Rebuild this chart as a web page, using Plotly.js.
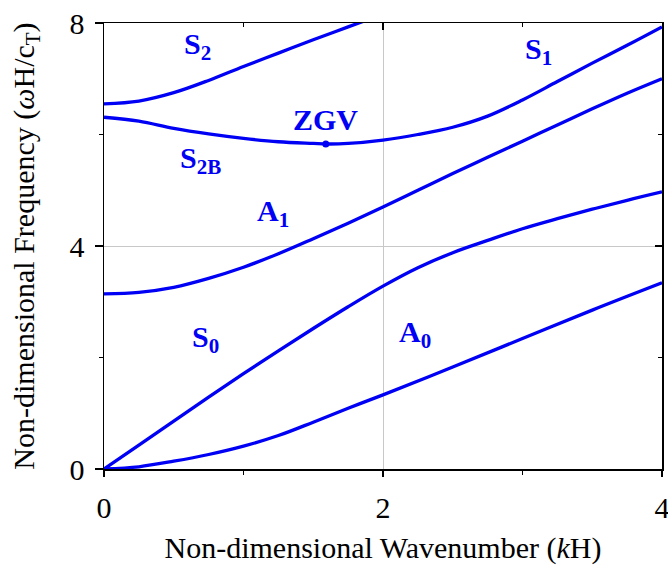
<!DOCTYPE html>
<html>
<head>
<meta charset="utf-8">
<script src="https://cdn.plot.ly/plotly-3.0.1.min.js"></script>
<style>html,body{margin:0;padding:0;background:#fff;}#chart{width:668px;height:565px;}</style>
</head>
<body>
<div id="chart"></div>
<script>
// Dispersion curves (kH vs ωH/cT)
const a0X = [0, 0.25, 0.5, 0.75, 1, 1.25, 1.5, 1.75, 2, 2.5, 3, 3.5, 4];
const a0Y = [0, 0.04, 0.14, 0.26, 0.41, 0.60, 0.84, 1.09, 1.33, 1.83, 2.34, 2.85, 3.34];

const s0X = [0, 0.25, 0.5, 0.75, 1, 1.25, 1.5, 1.75, 2, 2.25, 2.5, 2.75, 3, 3.25, 3.5, 3.75, 4];
const s0Y = [0, 0.43, 0.86, 1.29, 1.71, 2.12, 2.52, 2.91, 3.28, 3.61, 3.88, 4.10, 4.31, 4.49, 4.66, 4.82, 4.97];

const a1X = [0, 0.25, 0.5, 0.75, 1, 1.25, 1.5, 1.75, 2, 2.25, 2.5, 2.75, 3, 3.25, 3.5, 3.75, 4];
const a1Y = [3.14, 3.17, 3.26, 3.42, 3.62, 3.86, 4.13, 4.41, 4.70, 5.00, 5.30, 5.59, 5.88, 6.17, 6.46, 6.74, 7.0];

const s1X = [0, 0.25, 0.5, 0.75, 1, 1.25, 1.5, 1.6, 1.75, 2, 2.25, 2.5, 2.75, 3, 3.25, 3.5, 3.75, 4];
const s1Y = [6.31, 6.24, 6.11, 6.01, 5.93, 5.87, 5.84, 5.83, 5.84, 5.90, 6.00, 6.13, 6.33, 6.62, 6.95, 7.28, 7.60, 7.93];

const s2X = [0, 0.25, 0.5, 0.75, 1, 1.25, 1.5, 1.75, 2];
const s2Y = [6.55, 6.60, 6.75, 6.97, 7.22, 7.46, 7.70, 7.93, 8.16];

const zgvX = [1.59];
const zgvY = [5.83];

const labelText = ['S<sub>2</sub>', 'S<sub>1</sub>', 'ZGV', 'S<sub>2B</sub>', 'A<sub>1</sub>', 'S<sub>0</sub>', 'A<sub>0</sub>'];
const labelX = [0.562, 3.005, 1.59, 0.534, 1.085, 0.620, 2.102];
const labelY = [7.59, 7.50, 6.27, 5.55, 4.60, 2.325, 2.43];
const labelAnchor = ['left', 'left', 'center', 'left', 'left', 'left', 'left'];

const xTicks = [0, 2, 4];
const yTicks = [0, 4, 8];

const BLUE = '#0000f5';
const lineStyle = {color: BLUE, width: 3.3, shape: 'spline', smoothing: 1};

function curve(x, y) {
  return {x: x, y: y, type: 'scatter', mode: 'lines', line: lineStyle, hoverinfo: 'skip', showlegend: false};
}

const data = [
  curve(a0X, a0Y), curve(s0X, s0Y), curve(a1X, a1Y), curve(s1X, s1Y), curve(s2X, s2Y),
  {x: zgvX, y: zgvY, type: 'scatter', mode: 'markers', marker: {color: BLUE, size: 7}, showlegend: false, hoverinfo: 'skip'},
  {x: [null], y: [null], xaxis: 'x2', yaxis: 'y2', type: 'scatter', mode: 'markers', showlegend: false, hoverinfo: 'skip'}
];

const FONT = '"Times New Roman", Times, "Liberation Serif", serif';

const annotations = labelText.map((t, i) => ({
  text: '<b>' + t + '</b>', x: labelX[i], y: labelY[i], xref: 'x', yref: 'y',
  xanchor: labelAnchor[i], yanchor: 'middle', showarrow: false,
  font: {family: FONT, size: 30, color: BLUE, weight: 'bold'}
}));

const layout = {
  width: 668, height: 565,
  margin: {l: 104, r: 6, t: 23, b: 96},
  paper_bgcolor: '#fff', plot_bgcolor: '#fff',
  font: {family: FONT, color: '#000'},
  showlegend: false,
  xaxis: {
    range: [0, 4], tickvals: xTicks, ticktext: xTicks.map(String),
    ticks: 'outside', ticklen: 6, tickwidth: 1.5, tickcolor: '#000',
    minor: {tickvals: [1, 3], ticks: 'outside', ticklen: 4, tickwidth: 1.5, tickcolor: '#000', showgrid: false},
    showgrid: true, gridcolor: '#c8c8c8', gridwidth: 1,
    showline: true, linecolor: '#000', linewidth: 1.5, zeroline: false,
    ticklabeloverflow: 'allow', ticklabelstandoff: 5,
    tickfont: {family: FONT, size: 30, color: '#000'},
    title: {text: 'Non-dimensional Wavenumber (<i>k</i>H)', font: {family: FONT, size: 30, color: '#000'}, standoff: 14},
    automargin: false
  },
  yaxis: {
    range: [0, 8], tickvals: yTicks, ticktext: yTicks.map(String),
    ticks: 'outside', ticklen: 8, tickwidth: 1.5, tickcolor: '#000',
    minor: {tickvals: [2, 6], ticks: 'outside', ticklen: 4, tickwidth: 1.5, tickcolor: '#000', showgrid: false},
    showgrid: true, gridcolor: '#c8c8c8', gridwidth: 1,
    showline: true, linecolor: '#000', linewidth: 1.5, zeroline: false,
    ticklabeloverflow: 'allow', ticklabelstandoff: 4,
    tickfont: {family: FONT, size: 30, color: '#000'},
    title: {text: 'Non-dimensional Frequency (<i>ω</i>H/c<sub>T</sub>)', font: {family: FONT, size: 30, color: '#000'}, standoff: 26},
    automargin: false
  },
  xaxis2: {
    overlaying: 'x', side: 'top', anchor: 'y2', range: [0, 4],
    tickvals: xTicks, ticks: 'inside', ticklen: 7, tickwidth: 1.5, tickcolor: '#000',
    minor: {tickvals: [1, 3], ticks: 'inside', ticklen: 4, tickwidth: 1.5, tickcolor: '#000'},
    showticklabels: false, showgrid: false, zeroline: false,
    showline: true, linecolor: '#000', linewidth: 1.5
  },
  yaxis2: {
    overlaying: 'y', side: 'right', anchor: 'x2', range: [0, 8],
    tickvals: yTicks, ticks: 'inside', ticklen: 7, tickwidth: 1.5, tickcolor: '#000',
    minor: {tickvals: [2, 6], ticks: 'inside', ticklen: 4, tickwidth: 1.5, tickcolor: '#000'},
    showticklabels: false, showgrid: false, zeroline: false,
    showline: true, linecolor: '#000', linewidth: 1.5
  },
  annotations: annotations
};

Plotly.newPlot('chart', data, layout, {displayModeBar: false, staticPlot: true});
</script>
</body>
</html>
